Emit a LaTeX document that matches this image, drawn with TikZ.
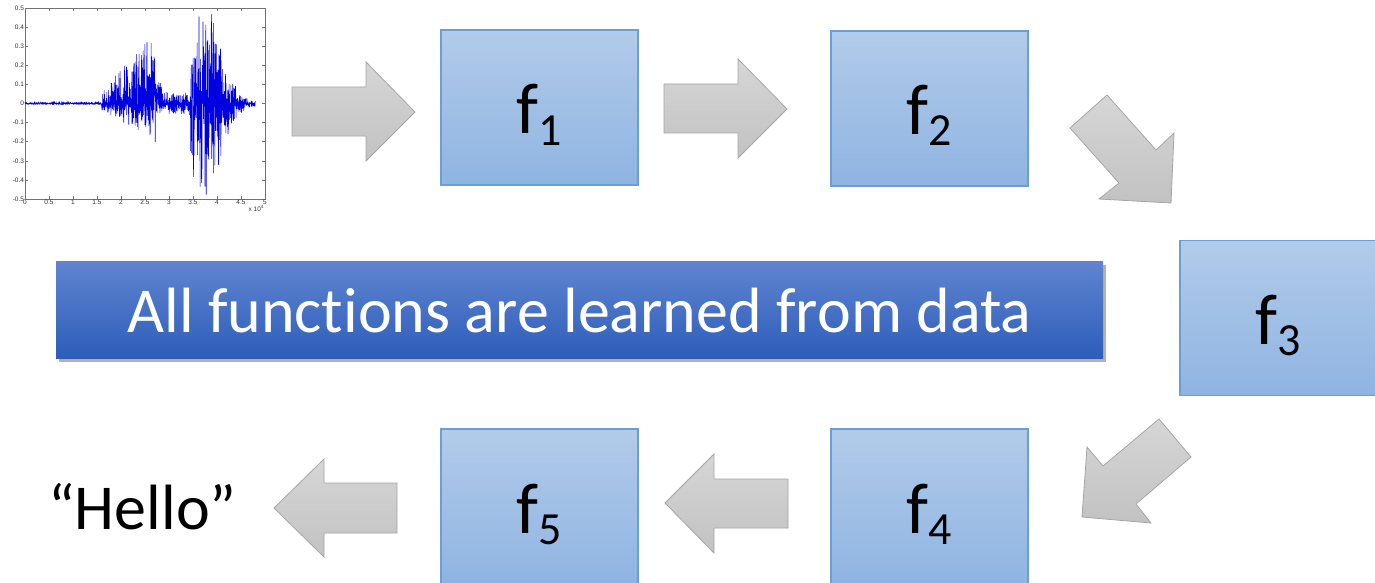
\documentclass[tikz,border=0pt]{standalone}
\usepackage{fontspec}
\setmainfont{Carlito}[Ligatures={NoCommon,TeX}]
\setsansfont{Liberation Sans}
\usetikzlibrary{shadows}
\definecolor{boxtop}{RGB}{178,203,233}
\definecolor{boxbot}{RGB}{143,180,226}
\definecolor{boxline}{RGB}{108,158,214}
\definecolor{bantop}{RGB}{96,133,208}
\definecolor{banbot}{RGB}{45,93,186}
\definecolor{arrtop}{RGB}{214,214,214}
\definecolor{arrbot}{RGB}{194,194,194}
\definecolor{arrline}{RGB}{165,165,165}
\definecolor{wave}{RGB}{0,0,225}
\newcommand{\fsub}[1]{f\raisebox{-11pt}{\fontsize{46}{46}\selectfont #1}}
\begin{document}
\begin{tikzpicture}[x=1pt,y=-1pt,
  declare function={
    env(\x)=(\x<1.58)*0.01
      +(\x>=1.58)*(\x<2.72)*(0.06+0.32*(\x-1.58)/1.14)
      +(\x>=2.72)*(\x<2.85)*0.12
      +(\x>=2.85)*(\x<3.45)*0.06
      +(\x>=3.45)*(\x<3.98)*0.48
      +(\x>=3.98)*(\x<4.1)*0.33
      +(\x>=4.1)*(0.015+0.22*(1-(\x-4.1)/0.7)^2);
    spk(\q,\x)=(0.45*\q+0.55*\q*\q*\q)*(1-0.45*(\q<0)*(\x<3));
  },
  fbox/.style={draw=boxline, line width=1.2pt, top color=boxtop, bottom color=boxbot,
    minimum width=197pt, minimum height=155pt, inner sep=0pt,
    text height=60pt, text depth=7pt, font=\fontsize{72}{78}\selectfont},
  blockarrow/.style={draw=arrline, line width=0.8pt, top color=arrtop, bottom color=arrbot, line join=miter},
  ticklab/.style={font=\sffamily\fontsize{6.5}{7}\selectfont, inner sep=0.8pt, text=black!80}
]
\useasboundingbox (0,0) rectangle (1375,583);
\clip (0,0) rectangle (1375,583);

% ---- waveform plot ----
\begin{scope}[shift={(25,103.5)}, x=48pt, y=191pt]
  \draw[black!55, line width=0.5pt] (0,-0.5) rectangle (5,0.5);
  \foreach \t [count=\i] in {0,0.5,...,5} {
    \draw[black!55, line width=0.4pt] (\t,-0.5) -- ++(0,0.015);
    \draw[black!55, line width=0.4pt] (\t,0.5) -- ++(0,-0.015);
  }
  \foreach \v [count=\i] in {-0.5,-0.4,-0.3,-0.2,-0.1,0,0.1,0.2,0.3,0.4,0.5} {
    \draw[black!55, line width=0.4pt] (0,\v) -- ++(0.06,0);
    \draw[black!55, line width=0.4pt] (5,\v) -- ++(-0.06,0);
    \node[ticklab, anchor=east] (yl\i) at (0,\v) {\v};
  }
  \foreach \t/\l [count=\i] in {0/0,0.5/0.5,1/1,1.5/1.5,2/2,2.5/2.5,3/3,3.5/3.5,4/4,4.5/4.5,5/5} {
    \node[ticklab, anchor=north] (xl\i) at (\t,-0.5) {\l};
  }
  \node[ticklab, anchor=north east] (xexp) at (5,-0.53) {x 10\textsuperscript{4}};
  \pgfmathsetseed{11}
  \draw[wave, line width=0.55pt, line join=round] plot[samples=1500, domain=0:4.8] (\x,{env(\x)*spk(2*rnd-1,\x)});
\end{scope}

% ---- function boxes ----
\node[fbox] (f1) at (539.5,107.5) {\fsub{1}};
\node[fbox] (f2) at (929.5,108.5) {\fsub{2}};
\node[fbox] (f3) at (1278.5,318) {\fsub{3}};
\node[fbox] (f4) at (929.5,506.5) {\fsub{4}};
\node[fbox] (f5) at (539.5,506.5) {\fsub{5}};

% ---- block arrows ----
\path[blockarrow] (292,87) -- (366,87) -- (366,62) -- (415,112) -- (366,161) -- (366,136) -- (292,136) -- cycle;
\path[blockarrow] (664,84) -- (738,84) -- (738,59) -- (787,109) -- (738,158) -- (738,133) -- (664,133) -- cycle;
\path[blockarrow] (1107,95) -- (1156,150) -- (1174,133) -- (1171,203) -- (1099,199) -- (1119,183) -- (1070,128) -- cycle;
\path[blockarrow] (1159,419) -- (1191,457) -- (1136,504) -- (1151,523) -- (1082,517) -- (1087,447) -- (1103,466) -- cycle;
\path[blockarrow] (788,479) -- (714,479) -- (714,454) -- (665,503) -- (714,553) -- (714,528) -- (788,528) -- cycle;
\path[blockarrow] (397,483) -- (324,483) -- (324,459) -- (274,508) -- (324,557) -- (324,533) -- (397,533) -- cycle;

% ---- banner ----
\node[top color=bantop, bottom color=banbot, minimum width=1047pt, minimum height=97pt,
  inner sep=0pt, text=white, text height=46pt, text depth=0pt,
  font=\fontsize{64}{70}\selectfont,
  drop shadow={shadow xshift=3pt, shadow yshift=-4pt, opacity=0.3, fill=black}]
  (banner) at (579.5,309.5) {All functions are learned from data};

% ---- output ----
\node[anchor=base west, inner sep=0pt, font=\fontsize{64}{70}\selectfont] (hello) at (48,529) {“Hello”};
\end{tikzpicture}
\end{document}
